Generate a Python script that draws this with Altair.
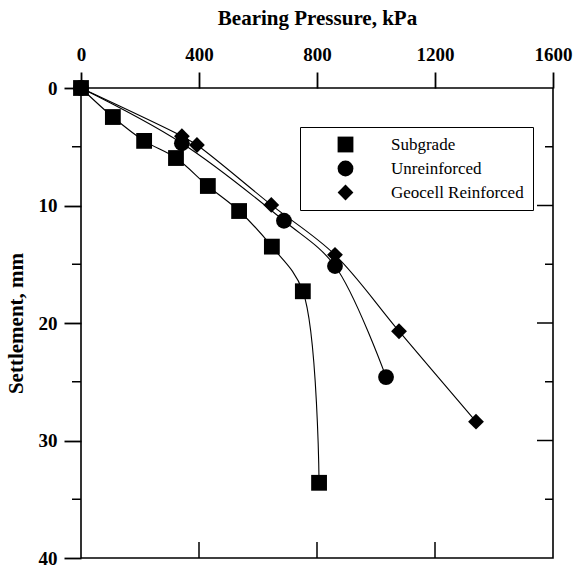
import altair as alt
import pandas as pd

# ---- data ----
series_names = ["Subgrade", "Unreinforced", "Geocell Reinforced"]
shapes = ["square", "circle", "diamond"]

sub_pressure = [0, 108, 214, 322, 430, 536, 647, 752, 807]
sub_settle = [0, 2.47, 4.5, 5.96, 8.34, 10.47, 13.5, 17.3, 33.6]

unr_pressure = [0, 342, 688, 861, 1034]
unr_settle = [0, 4.7, 11.3, 15.15, 24.6]

geo_pressure = [0, 342, 393, 645, 861, 1078, 1339]
geo_settle = [0, 4.1, 4.85, 9.95, 14.2, 20.7, 28.4]

x_ticks = [0, 400, 800, 1200, 1600]
x_inner_ticks = [400, 800, 1200]
y_major = [0, 10, 20, 30, 40]
y_major_inner = [10, 20, 30]
y_minor = [5, 15, 25, 35]

W, H = 472, 470
FONT = "Liberation Serif"

rows = []
for name, xs, ys in [
    (series_names[0], sub_pressure, sub_settle),
    (series_names[1], unr_pressure, unr_settle),
    (series_names[2], geo_pressure, geo_settle),
]:
    for i, (x, y) in enumerate(zip(xs, ys)):
        rows.append({"series": name, "pressure": x, "settlement": y, "order": i})
df = pd.DataFrame(rows)

xscale = alt.Scale(domain=[0, 1600], nice=False, zero=False)
yscale = alt.Scale(domain=[0, 40], reverse=True, nice=False, zero=False)

x_axis = alt.Axis(
    orient="top", values=x_ticks, ticks=True, tickSize=16, tickColor="black",
    tickWidth=1.8, format="d", labelFlush=False,
    domain=False, grid=False, labelFont=FONT, labelFontSize=19, labelFontWeight="bold",
    labelColor="black", labelPadding=8, title="Bearing Pressure, kPa",
    titleFont=FONT, titleFontSize=21, titleFontWeight="bold", titleColor="black",
    titlePadding=17,
)
y_axis = alt.Axis(
    orient="left", values=y_major, ticks=True, tickSize=17, tickColor="black",
    tickWidth=1.8, format="d", labelFlush=False,
    domain=False, grid=False, labelFont=FONT, labelFontSize=19, labelFontWeight="bold",
    labelColor="black", labelPadding=7, title="Settlement, mm",
    titleFont=FONT, titleFontSize=21, titleFontWeight="bold", titleColor="black",
    titlePadding=12,
)

lines = alt.Chart(df).mark_line(
    color="black", strokeWidth=1.1, interpolate="catmull-rom"
).encode(
    x=alt.X("pressure:Q", scale=xscale, axis=x_axis),
    y=alt.Y("settlement:Q", scale=yscale, axis=y_axis),
    detail="series:N",
    order="order:Q",
)

points = alt.Chart(df).mark_point(
    filled=True, opacity=1, color="black", size=250
).encode(
    x=alt.X("pressure:Q", scale=xscale, axis=x_axis),
    y=alt.Y("settlement:Q", scale=yscale, axis=y_axis),
    shape=alt.Shape(
        "series:N",
        scale=alt.Scale(domain=series_names, range=shapes),
        legend=alt.Legend(
            title=None, orient="none", legendX=219, legendY=39,
            strokeColor="black", padding=9,
            symbolSize=250, symbolFillColor="black", symbolStrokeColor="black",
            symbolStrokeWidth=0, symbolOffset=28, labelOffset=37,
            labelFont=FONT, labelFontSize=17, labelColor="black",
            rowPadding=6,
        ),
    ),
)


def vrule_layer(values, y_from, y_to):
    return alt.Chart(pd.DataFrame({"tx": values})).mark_rule(
        color="black", strokeWidth=1.5
    ).encode(
        x=alt.X("tx:Q", scale=xscale, axis=x_axis),
        y=alt.value(y_from), y2=alt.value(y_to),
    )


def hrule_layer(values, x_from, x_to):
    return alt.Chart(pd.DataFrame({"ty": values})).mark_rule(
        color="black", strokeWidth=1.5
    ).encode(
        y=alt.Y("ty:Q", scale=yscale, axis=y_axis),
        x=alt.value(x_from), x2=alt.value(x_to),
    )


bottom_ticks = vrule_layer(x_inner_ticks, H - 16, H)
left_minor = hrule_layer(y_minor, -9, 0)
right_major = hrule_layer(y_major_inner, W - 16, W)
right_minor = hrule_layer(y_minor, W - 8, W)

chart = alt.layer(
    lines, bottom_ticks, left_minor, right_major, right_minor, points
).properties(
    width=W, height=H,
    background="white",
    autosize=alt.AutoSizeParams(type="none"),
    padding={"left": 81, "top": 88, "right": 27, "bottom": 14},
).configure_view(
    stroke="black", strokeWidth=1.6
).configure_legend(
    strokeWidth=1
)

chart.save("out.html", embed_options={"renderer": "svg", "actions": False})
